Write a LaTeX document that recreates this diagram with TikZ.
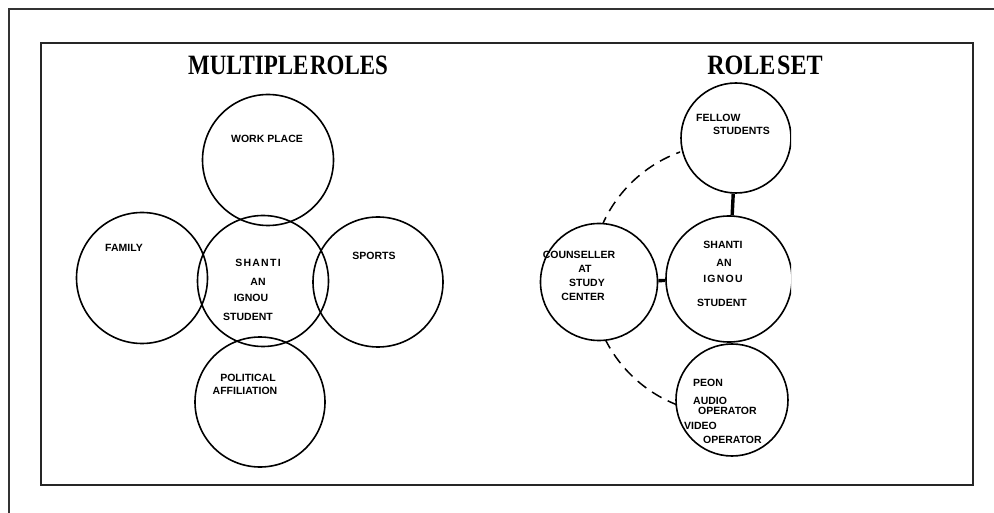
\documentclass[tikz,border=0pt]{standalone}
\usepackage{graphicx}
\usepackage{fontspec}
\setmainfont{Liberation Sans}
\newfontfamily\titlefont{Liberation Serif}
\newfontfamily\spacedfont{Liberation Sans}[LetterSpace=12]
\begin{document}
\begin{tikzpicture}[x=1pt,y=-1pt,
  ring/.style={draw, circle, line width=1.6pt, inner sep=0pt, minimum size=#1},
  wring/.style={ring=#1, fill=white},
  lbl/.style={font=\bfseries\fontsize{10.5}{12}\selectfont, inner sep=0pt},
  llbl/.style={lbl, anchor=west},
  ttl/.style={font=\titlefont\bfseries\fontsize{28}{32}\selectfont, inner sep=0pt},
  conn/.style={line width=3.4pt},
  frame/.style={line width=2.2pt, draw=black!85}]
\useasboundingbox (0,0) rectangle (994,513);
% frames
\draw[line width=2pt, black!80] (9,513) -- (9,9) -- (994,9);
\draw[frame] (41,43) rectangle (973,485);
% titles
\node[ttl] (t1) at (288,65) {\scalebox{0.82}[1]{\spaceskip=2pt MULTIPLE ROLES}};
\node[ttl] (t2) at (765,65) {\scalebox{0.86}[1]{\spaceskip=2pt ROLE SET}};
% ---- multiple roles ----
\node[ring=131pt] (wp)  at (268,160) {};
\node[ring=131pt] (fam) at (142,278) {};
\node[ring=131pt] (me)  at (263,281) {};
\node[ring=130pt] (sp)  at (378,282) {};
\node[ring=130pt] (pol) at (260,402) {};
\node[lbl] (wpt) at (267,139) {WORK PLACE};
\node[lbl] (famt) at (124,248) {FAMILY};
\node[lbl] (spt) at (374,256) {SPORTS};
\node[lbl, font=\spacedfont\bfseries\fontsize{10.5}{12}\selectfont] (me1) at (258,263) {SHANTI};
\node[lbl] (me2) at (258,282) {AN};
\node[lbl] (me3) at (251,298) {IGNOU};
\node[lbl] (me4) at (248,317) {STUDENT};
\node[lbl] (pol1) at (248,378) {POLITICAL};
\node[lbl] (pol2) at (245,391) {AFFILIATION};
% ---- role set ----
\begin{scope}
\clip (500,70) rectangle (791,480);
\begin{scope}
\clip (500,70) rectangle (680,480);
\draw[line width=1.5pt, dash pattern=on 11pt off 7pt] (726,279) circle[radius=135pt];
\end{scope}
\node[wring=110pt] (fs) at (736,138) {};
\node[wring=126pt] (rc) at (729,279) {};
\node[wring=117pt] (cs) at (599,282) {};
\node[wring=112pt] (st) at (732,400) {};
\draw[conn] (fs) -- (rc);
\draw[conn] (cs) -- (rc);
\draw[conn] (rc) -- (st);
\end{scope}
\node[llbl] (fs1) at (696,118) {FELLOW};
\node[llbl] (fs2) at (713,131) {STUDENTS};
\node[lbl] (rc1) at (723,245) {SHANTI};
\node[lbl] (rc2) at (724,263) {AN};
\node[lbl, font=\spacedfont\bfseries\fontsize{10.5}{12}\selectfont] (rc3) at (723,279) {IGNOU};
\node[lbl] (rc4) at (722,303) {STUDENT};
\node[lbl] (cs1) at (579,255) {COUNSELLER};
\node[lbl] (cs2) at (585,269) {AT};
\node[lbl] (cs3) at (587,283) {STUDY};
\node[lbl] (cs4) at (583,297) {CENTER};
\node[llbl] (st1) at (693,383) {PEON};
\node[llbl] (st2) at (693,401) {AUDIO};
\node[llbl] (st3) at (698,411) {OPERATOR};
\node[llbl] (st4) at (684,426) {VIDEO};
\node[llbl] (st5) at (703,440) {OPERATOR};
\end{tikzpicture}
\end{document}
